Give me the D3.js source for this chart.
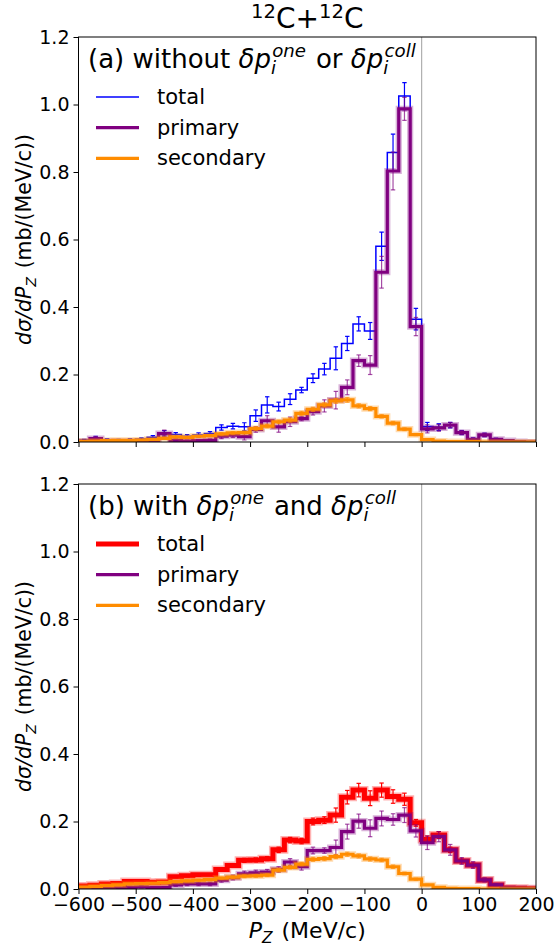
<!DOCTYPE html>
<html><head><meta charset="utf-8">
<script src="https://cdn.jsdelivr.net/npm/d3@7"></script>
<style>body{margin:0;background:#fff} svg text{font-family:"DejaVu Sans",sans-serif;fill:#000;white-space:pre}</style>
</head><body><svg id="c" width="555" height="950"></svg>
<script>
// ---------------- data ----------------
const binStarts = [-600,-580,-560,-540,-520,-500,-480,-460,-440,-420,-400,-380,-360,-340,-320,-300,-280,-260,-240,-220,-200,-180,-160,-140,-120,-100,-80,-60,-40,-20,0,20,40,60,80,100,120,140,160,180];
const binWidth = 20;
const xTicks = [-600,-500,-400,-300,-200,-100,0,100,200];
const yTicks = [0.0,0.2,0.4,0.6,0.8,1.0,1.2];

// panel (a)
const aTotal = [0.005,0.012,0.006,0.005,0.006,0.008,0.014,0.026,0.022,0.017,0.021,0.025,0.043,0.047,0.045,0.078,0.110,0.105,0.127,0.154,0.189,0.216,0.248,0.292,0.350,0.329,0.580,0.858,1.025,0.364,0.046,0.044,0.050,0.028,0.008,0.021,0.008,0.004,0.001,0.000];
const aTotalErr = [0.003,0.005,0.003,0.003,0.003,0.004,0.005,0.008,0.006,0.005,0.006,0.006,0.008,0.008,0.012,0.017,0.024,0.013,0.016,0.008,0.013,0.017,0.034,0.021,0.021,0.025,0.042,0.054,0.040,0.032,0.012,0.010,0.008,0.006,0.004,0.005,0.003,0.002,0.001,0.000];
const aPrimary = [0.002,0.010,0.002,0.001,0.001,0.002,0.004,0.025,0.005,0.003,0.004,0.005,0.017,0.020,0.016,0.037,0.063,0.045,0.060,0.069,0.090,0.107,0.124,0.162,0.241,0.228,0.503,0.803,0.987,0.342,0.039,0.042,0.050,0.028,0.008,0.021,0.008,0.004,0.001,0.000];
const aPrimaryErr = [0.002,0.006,0.002,0.001,0.001,0.002,0.003,0.010,0.004,0.003,0.003,0.004,0.007,0.007,0.010,0.008,0.015,0.016,0.014,0.006,0.010,0.018,0.026,0.022,0.017,0.028,0.047,0.056,0.034,0.027,0.012,0.010,0.008,0.006,0.004,0.005,0.003,0.002,0.001,0.000];
const aSecondary = [0.002,0.003,0.004,0.005,0.005,0.006,0.008,0.011,0.015,0.014,0.017,0.019,0.024,0.027,0.028,0.040,0.047,0.060,0.065,0.085,0.097,0.110,0.122,0.125,0.107,0.099,0.076,0.056,0.038,0.022,0.007,0.003,0.001,0.001,0.001,0.000,0.000,0.000,0.000,0.000];
const aSecondaryErr = [0.001,0.001,0.001,0.002,0.002,0.002,0.002,0.003,0.003,0.003,0.003,0.003,0.004,0.004,0.004,0.005,0.005,0.005,0.006,0.006,0.006,0.006,0.007,0.007,0.006,0.006,0.005,0.005,0.004,0.003,0.002,0.001,0.001,0.001,0.000,0.000,0.000,0.000,0.000,0.000];

// panel (b)
const bTotal = [0.009,0.011,0.015,0.016,0.022,0.022,0.020,0.021,0.036,0.039,0.042,0.042,0.058,0.070,0.085,0.086,0.090,0.116,0.145,0.142,0.200,0.204,0.219,0.272,0.293,0.269,0.293,0.274,0.266,0.196,0.147,0.160,0.116,0.083,0.071,0.027,0.012,0.003,0.002,0.001];
const bTotalErr = [0.002,0.002,0.003,0.003,0.003,0.003,0.003,0.003,0.004,0.004,0.004,0.004,0.005,0.005,0.006,0.006,0.006,0.008,0.008,0.008,0.010,0.010,0.021,0.020,0.020,0.022,0.021,0.020,0.018,0.010,0.010,0.010,0.008,0.006,0.006,0.004,0.003,0.001,0.001,0.001];
const bPrimary = [0.002,0.002,0.003,0.003,0.005,0.006,0.004,0.004,0.012,0.015,0.015,0.015,0.026,0.034,0.045,0.048,0.050,0.058,0.080,0.066,0.114,0.114,0.123,0.170,0.201,0.180,0.209,0.206,0.219,0.172,0.137,0.155,0.116,0.083,0.071,0.027,0.012,0.003,0.002,0.001];
const bPrimaryErr = [0.002,0.002,0.002,0.002,0.003,0.003,0.003,0.003,0.004,0.005,0.005,0.005,0.006,0.007,0.008,0.008,0.008,0.008,0.010,0.010,0.010,0.008,0.022,0.022,0.021,0.025,0.022,0.017,0.022,0.018,0.020,0.015,0.016,0.010,0.010,0.006,0.004,0.002,0.001,0.001];
const bSecondary = [0.006,0.008,0.010,0.012,0.015,0.016,0.017,0.019,0.022,0.024,0.026,0.028,0.032,0.035,0.038,0.039,0.041,0.056,0.064,0.074,0.088,0.090,0.096,0.103,0.098,0.089,0.086,0.066,0.046,0.029,0.012,0.005,0.002,0.001,0.001,0.000,0.000,0.000,0.000,0.000];
const bSecondaryErr = [0.001,0.001,0.002,0.002,0.002,0.002,0.002,0.003,0.003,0.003,0.003,0.003,0.003,0.004,0.004,0.004,0.004,0.005,0.005,0.005,0.006,0.006,0.006,0.006,0.006,0.006,0.005,0.005,0.004,0.003,0.002,0.001,0.001,0.000,0.000,0.000,0.000,0.000,0.000,0.000];

// ---------------- layout ----------------
const svg = d3.select("#c");
const L = 78.5, R = 536;
const x = d3.scaleLinear().domain([-600, 200]).range([L, R]);
const FS_TICK = 19, FS_LAB = 22, FS_YLAB = 20.5, FS_LEG = 21, FS_PANEL = 26, FS_TITLE = 28;

const panels = [
  { id:"a", top:37, bottom:442, xLabels:false,
    label:[["(a) without ","n"],["δp","i"],["i|one","s"],[" or ","n"],["δp","i"],["i|coll","s"]],
    series:[
      {name:"total", vals:aTotal, err:aTotalErr, color:"#0000ff", w:1.5, halo:false, errOp:1},
      {name:"primary", vals:aPrimary, err:aPrimaryErr, color:"#800080", w:3.2, halo:true, errOp:0.7},
      {name:"secondary", vals:aSecondary, err:aSecondaryErr, color:"#ff8c00", w:3.2, halo:true, errOp:0.7}
    ], drawOrder:[0,1,2] },
  { id:"b", top:484, bottom:889, xLabels:true,
    label:[["(b) with ","n"],["δp","i"],["i|one","s"],[" and ","n"],["δp","i"],["i|coll","s"]],
    series:[
      {name:"total", vals:bTotal, err:bTotalErr, color:"#ff0000", w:5, halo:true, errOp:1},
      {name:"primary", vals:bPrimary, err:bPrimaryErr, color:"#800080", w:3.2, halo:true, errOp:0.7},
      {name:"secondary", vals:bSecondary, err:bSecondaryErr, color:"#ff8c00", w:3.2, halo:true, errOp:0.7}
    ], drawOrder:[0,1,2] }
];

// helper for math-like text run
function mathText(g, x0, y0, parts, fs) {
  let cx = x0;
  parts.forEach(([t, kind]) => {
    if (kind === "s") {
      const [sub, sup] = t.split("|");
      const fss = fs * 0.7;
      const a = g.append("text").attr("x", cx).attr("y", y0 + fs*0.22).attr("font-size", fss).style("font-style","italic").text(sub);
      const b = g.append("text").attr("x", cx + fs*0.05).attr("y", y0 - fs*0.42).attr("font-size", fss).style("font-style","italic").text(sup);
      cx += Math.max(a.node().getComputedTextLength(), b.node().getComputedTextLength() + fs*0.05) + fs*0.06;
    } else {
      const el = g.append("text").attr("x", cx).attr("y", y0).attr("font-size", fs).text(t);
      if (kind === "i") el.style("font-style","italic");
      cx += el.node().getComputedTextLength();
    }
  });
  return cx - x0;
}

panels.forEach((p, pi) => {
  const y = d3.scaleLinear().domain([0, 1.2]).range([p.bottom, p.top]);
  const g = svg.append("g");
  const clipId = "clip" + p.id;
  svg.append("clipPath").attr("id", clipId).append("rect")
    .attr("x", L).attr("y", p.top).attr("width", R - L).attr("height", p.bottom - p.top);
  const plot = g.append("g").attr("clip-path", `url(#${clipId})`);

  // vertical line at 0
  plot.append("line").attr("x1", x(0)).attr("x2", x(0)).attr("y1", p.top).attr("y2", p.bottom)
    .attr("stroke", "#b0b0b0").attr("stroke-width", 1.2);

  const line = d3.line().x(d => x(d[0])).y(d => y(d[1])).curve(d3.curveStepAfter);

  p.drawOrder.forEach(si => {
    const s = p.series[si];
    const pts = binStarts.map((b, i) => [b, s.vals[i]]);
    pts.push([binStarts[binStarts.length-1] + binWidth, s.vals[s.vals.length-1]]);
    if (s.halo) {
      plot.append("path").attr("d", line(pts)).attr("fill","none")
        .attr("stroke", s.color).attr("stroke-opacity", 0.3).attr("stroke-width", s.w + 3);
    }
    plot.append("path").attr("d", line(pts)).attr("fill","none")
      .attr("stroke", s.color).attr("stroke-width", s.w).attr("stroke-linejoin","miter");
    // error bars
    const eg = plot.append("g").attr("stroke", s.color).attr("stroke-opacity", s.errOp).attr("stroke-width", 1.2);
    binStarts.forEach((b, i) => {
      const e = s.err[i];
      if (!(e > 0)) return;
      const cxp = x(b + binWidth/2);
      const y1 = y(s.vals[i] - e), y2 = y(s.vals[i] + e);
      eg.append("line").attr("x1", cxp).attr("x2", cxp).attr("y1", y1).attr("y2", y2);
      eg.append("line").attr("x1", cxp-2.2).attr("x2", cxp+2.2).attr("y1", y1).attr("y2", y1);
      eg.append("line").attr("x1", cxp-2.2).attr("x2", cxp+2.2).attr("y1", y2).attr("y2", y2);
    });
  });

  // frame
  g.append("rect").attr("x", L).attr("y", p.top).attr("width", R - L).attr("height", p.bottom - p.top)
    .attr("fill","none").attr("stroke","#000").attr("stroke-width",1);

  // axes
  const xa = d3.axisBottom(x).tickValues(xTicks).tickSize(5).tickPadding(4);
  if (!p.xLabels) xa.tickFormat("");
  const gx = g.append("g").attr("transform", `translate(0,${p.bottom})`).call(xa);
  gx.select(".domain").remove();
  gx.selectAll("text").attr("font-size", FS_TICK).attr("font-family","DejaVu Sans");
  const ya = d3.axisLeft(y).tickValues(yTicks).tickSize(5).tickPadding(4).tickFormat(d3.format(".1f"));
  const gy = g.append("g").attr("transform", `translate(${L},0)`).call(ya);
  gy.select(".domain").remove();
  gy.selectAll("text").attr("font-size", FS_TICK).attr("font-family","DejaVu Sans");

  // y label (rotated): dσ/dP_Z (mb/(MeV/c))
  const yl = svg.append("g");
  const ylInner = yl.append("g");
  let cx = 0;
  const t1 = ylInner.append("text").attr("x", cx).attr("y", 0).attr("font-size", FS_YLAB).style("font-style","italic").text("dσ/dP");
  cx += t1.node().getComputedTextLength();
  const t2 = ylInner.append("text").attr("x", cx).attr("y", FS_YLAB*0.22).attr("font-size", FS_YLAB*0.7).style("font-style","italic").text("Z");
  cx += t2.node().getComputedTextLength() + 2;
  const t3 = ylInner.append("text").attr("x", cx).attr("y", 0).attr("font-size", FS_YLAB).text(" (mb/(MeV/c))");
  cx += t3.node().getComputedTextLength();
  const cy = (p.top + p.bottom) / 2;
  yl.attr("transform", `translate(31,${cy}) rotate(-90) translate(${-cx/2},0)`);

  // panel label
  const pl = svg.append("g");
  mathText(pl, 88, p.top + 31, p.label, FS_PANEL);

  // legend
  const leg = svg.append("g");
  p.series.forEach((s, i) => {
    const ry = p.top + 60 + i * 30.7;
    leg.append("line").attr("x1", 96).attr("x2", 139).attr("y1", ry).attr("y2", ry)
      .attr("stroke", s.color).attr("stroke-width", s.w);
    leg.append("text").attr("x", 157).attr("y", ry + 7).attr("font-size", FS_LEG).text(s.name);
  });

  // x label
  if (p.xLabels) {
    const xl = svg.append("g");
    let c2 = 0;
    const a1 = xl.append("text").attr("x", c2).attr("y", 0).attr("font-size", FS_LAB).style("font-style","italic").text("P");
    c2 += a1.node().getComputedTextLength();
    const a2 = xl.append("text").attr("x", c2).attr("y", FS_LAB*0.22).attr("font-size", FS_LAB*0.7).style("font-style","italic").text("Z");
    c2 += a2.node().getComputedTextLength() + 2;
    const a3 = xl.append("text").attr("x", c2).attr("y", 0).attr("font-size", FS_LAB).text(" (MeV/c)");
    c2 += a3.node().getComputedTextLength();
    xl.attr("transform", `translate(${(L+R)/2 - c2/2},938)`);
  }
});

// title
const tg = svg.append("g");
let tx = 0;
[["12","s"],["C+","n"],["12","s"],["C","n"]].forEach(([t,k]) => {
  const el = tg.append("text").attr("x", tx).attr("y", k==="s" ? -FS_TITLE*0.36 : 0)
    .attr("font-size", k==="s" ? FS_TITLE*0.7 : FS_TITLE).text(t);
  tx += el.node().getComputedTextLength();
});
tg.attr("transform", `translate(${(L+R)/2 - tx/2},28)`);
</script></body></html>
